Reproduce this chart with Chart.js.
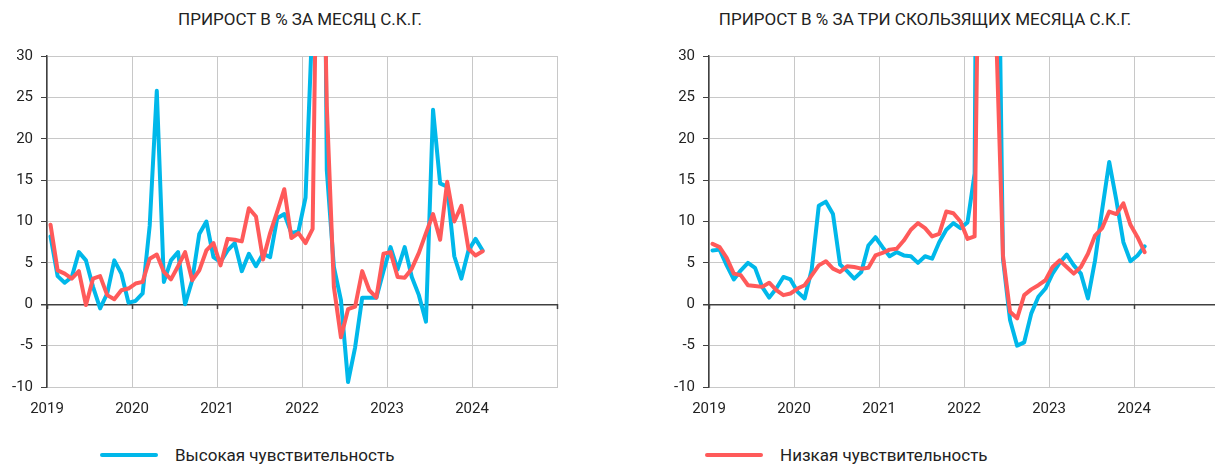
<!DOCTYPE html>
<html>
<head>
<meta charset="utf-8">
<script src="https://cdn.jsdelivr.net/npm/chart.js@4.4.1/dist/chart.umd.min.js"></script>
<style>
  body { margin: 0; width: 1215px; height: 466px; overflow: hidden; background: #fff;
         font-family: Roboto, "Noto Sans", sans-serif; color: #222; position: relative; }
  .title { position: absolute; top: 9px; width: 600px; text-align: center; font-size: 17px; }
  .box { position: absolute; top: 0; width: 600px; height: 440px; }
  .legend { position: absolute; top: 443px; font-size: 17px; display: flex; align-items: center; line-height: 24px; }
  .legend .swatch { width: 58px; height: 4px; margin-right: 17px; border-radius: 2px; }
</style>
</head>
<body>

<div class="title" style="left:0">ПРИРОСТ В % ЗА МЕСЯЦ С.К.Г.</div>
<div class="title" style="left:625px">ПРИРОСТ В % ЗА ТРИ СКОЛЬЗЯЩИХ МЕСЯЦА С.К.Г.</div>

<div class="box" style="left:0"><canvas id="monthChart" width="600" height="440"></canvas></div>
<div class="box" style="left:662px"><canvas id="threeMonthChart" width="600" height="440"></canvas></div>

<div class="legend" style="left:100px"><span class="swatch" style="background:#00b8ea"></span>Высокая чувствительность</div>
<div class="legend" style="left:705px"><span class="swatch" style="background:#ff5a5a"></span>Низкая чувствительность</div>

<script>
// DATA: monthly, Jan 2019 .. Feb 2024
const yearLabels = ["2019", "2020", "2021", "2022", "2023", "2024"];

const monthHigh = [
  8.2, 3.4, 2.6, 3.3, 6.3, 5.3, 2.1, -0.5, 1.3, 5.3, 3.7, 0.2,
  0.4, 1.3, 9.5, 25.8, 2.7, 5.3, 6.3, 0.0, 2.9, 8.5, 10.0, 5.7,
  5.1, 6.5, 7.4, 4.0, 6.1, 4.6, 6.1, 5.7, 10.4, 10.9, 8.6, 8.8,
  12.9, 35, 120, 16.2, 4.5, 0.5, -9.4, -5.2, 0.8, 0.8, 0.8, 4.0,
  6.9, 4.2, 6.9, 3.3, 1.1, -2.1, 23.5, 14.6, 14.2, 5.8, 3.1, 6.5,
  7.9, 6.5
];
const monthLow = [
  9.6, 4.1, 3.7, 3.1, 4.0, -0.1, 3.1, 3.4, 1.1, 0.6, 1.7, 1.9,
  2.5, 2.7, 5.5, 6.0, 3.9, 3.0, 4.6, 6.3, 2.9, 4.1, 6.5, 7.4,
  4.7, 7.9, 7.8, 7.6, 11.6, 10.6, 5.4, 8.6, 11.2, 13.9, 8.0, 8.6,
  7.4, 9.1, 70, 24, 2.1, -4.0, -0.6, -0.3, 4.0, 1.7, 0.8, 6.1,
  6.3, 3.3, 3.2, 4.3, 6.2, 8.6, 10.9, 7.8, 14.8, 10.0, 11.9, 6.7,
  5.9, 6.4
];
const threeMonthHigh = [
  6.5, 6.6, 4.7, 3.0, 4.1, 5.0, 4.4, 2.1, 0.8, 1.9, 3.3, 3.0,
  1.5, 0.7, 4.2, 11.9, 12.4, 10.9, 4.8, 4.0, 3.1, 3.9, 7.1, 8.1,
  6.9, 5.8, 6.3, 5.9, 5.8, 5.0, 5.8, 5.5, 7.5, 9.0, 9.8, 9.2,
  9.9, 15.8, 150, 100, 70, 5.5, -1.9, -5.0, -4.6, -1.1, 0.9, 1.9,
  3.7, 5.0, 6.0, 4.7, 3.7, 0.7, 5.3, 11.4, 17.2, 12.6, 7.5, 5.2,
  5.9, 7.0
];
const threeMonthLow = [
  7.3, 6.9, 5.6, 3.7, 3.5, 2.3, 2.2, 2.1, 2.6, 1.7, 1.1, 1.3,
  1.9, 2.3, 3.5, 4.7, 5.2, 4.3, 3.9, 4.6, 4.5, 4.3, 4.4, 5.9,
  6.2, 6.6, 6.7, 7.7, 9.0, 9.8, 9.2, 8.2, 8.5, 11.2, 11.0, 10.0,
  7.9, 8.2, 72, 45, 34, 5.9, -0.9, -1.7, 1.1, 1.8, 2.3, 2.9,
  4.5, 5.3, 4.5, 3.7, 4.5, 6.1, 8.3, 9.2, 11.2, 10.9, 12.2, 9.6,
  8.1, 6.3
];

const BLUE = "#00b8ea";
const RED = "#ff5a5a";
const GRID = "#c8c8c8";
const AXIS = "#404040";

// points sit in the middle of their month
function toPoints(values) {
  return values.map((v, i) => ({ x: i + 0.5, y: v }));
}

function makeChart(id, high, low) {
  const ctx = document.getElementById(id).getContext("2d");
  const lineStyle = {
    borderWidth: 4,
    pointRadius: 0,
    tension: 0,
    borderJoinStyle: "round",
    borderCapStyle: "round",
    clip: { left: 3, top: 0, right: 0, bottom: 3 }
  };

  return new Chart(ctx, {
    type: "line",
    data: {
      datasets: [
        { ...lineStyle, label: "Высокая чувствительность", data: toPoints(high), borderColor: BLUE, order: 2 },
        { ...lineStyle, label: "Низкая чувствительность", data: toPoints(low), borderColor: RED, order: 1 }
      ]
    },
    options: {
      responsive: false,
      animation: false,
      layout: { padding: { top: 56, right: 43, left: 0, bottom: 0 } },
      plugins: { legend: { display: false }, tooltip: { enabled: false } },
      scales: {
        x: {
          type: "linear",
          min: 0,
          max: 72,
          afterFit: s => { s.height = 53; },
          ticks: {
            stepSize: 12,
            autoSkip: false,
            maxRotation: 0,
            padding: 13,
            color: "#222",
            font: { family: "Roboto", size: 15 },
            callback: v => yearLabels[v / 12] || ""
          },
          grid: { color: GRID, drawTicks: false },
          border: { color: GRID }
        },
        // year tick marks hanging off the zero line
        xZero: {
          type: "linear",
          axis: "x",
          min: 0,
          max: 72,
          position: { y: 0 },
          afterFit: s => { s.height = 0; },
          ticks: { stepSize: 12, display: false },
          grid: { drawOnChartArea: false, tickLength: 5, tickColor: AXIS, tickWidth: 1.5 },
          border: { display: false }
        },
        y: {
          min: -10,
          max: 30,
          afterFit: s => { s.width = 47; },
          ticks: {
            stepSize: 5,
            padding: 8,
            color: "#222",
            font: { family: "Roboto", size: 15 }
          },
          grid: {
            color: c => (c.tick && c.tick.value === 0 ? AXIS : GRID),
            lineWidth: c => (c.tick && c.tick.value === 0 ? 1.5 : 1),
            tickColor: AXIS,
            tickLength: 6
          },
          border: { color: AXIS, width: 1.5 }
        }
      }
    }
  });
}

// INIT CHARTS
makeChart("monthChart", monthHigh, monthLow);
makeChart("threeMonthChart", threeMonthHigh, threeMonthLow);
</script>
</body>
</html>
